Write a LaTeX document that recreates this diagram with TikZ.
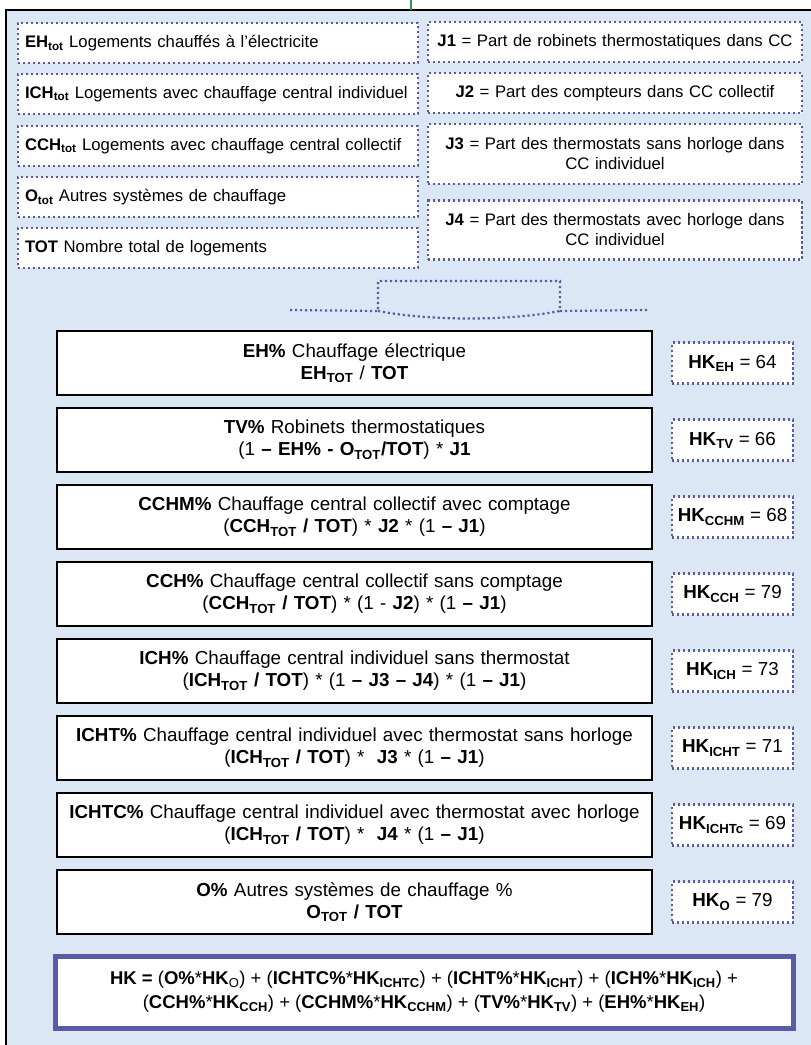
\documentclass[tikz,border=0pt]{standalone}
\usepackage{fontspec}
\setmainfont{Liberation Sans}
\usepackage{xcolor}
\definecolor{hkpanel}{HTML}{DBE7F4}
\definecolor{hkdots}{HTML}{5A5AA6}
\definecolor{hkgreen}{HTML}{1F9A45}
\newcommand{\hksub}[1]{\textbf{HK}\textsubscript{\textbf{#1}}}
\newcommand{\totsub}[1]{\textbf{#1}\textsubscript{\textbf{TOT}}}
\newcommand{\lowtot}[1]{\textbf{#1}\textsubscript{\textbf{tot}}}
\hyphenpenalty=10000
\tikzset{
	infobox/.style={draw=hkdots, fill=white, line width=2.2pt, dash pattern=on 2.2pt off 2.8pt, inner xsep=7pt, inner ysep=0pt, font=\fontsize{16.7}{20}\selectfont},
	varbox/.style={infobox, minimum height=40pt, text width=386pt, align=left},
	partbox/.style={infobox, text width=360pt, align=center},
	calcbox/.style={draw=black, fill=white, line width=1.4pt, minimum height=64pt, text width=593pt, inner xsep=1pt, align=center, font=\fontsize{18.8}{22}\selectfont},
	hkbox/.style={infobox, minimum width=121pt, minimum height=41pt, inner xsep=2pt, font=\fontsize{18.8}{22}\selectfont},
	sumbox/.style={draw=hkdots, fill=white, line width=5pt, minimum width=738pt, minimum height=72pt, align=center, font=\fontsize{18.5}{24}\selectfont}
}

\begin{document}
\begin{tikzpicture}[x=1pt, y=-1pt]
		\useasboundingbox (0,0) rectangle (811,1045);
		\fill[hkpanel] (6,10) rectangle (820,1055);
		\draw[color=black, line width=1.2pt] (6,1055) -- (6,10) -- (820,10);
		\draw[color=hkgreen, line width=2pt] (411,0) -- (411,10);
		% variables
		\node[varbox] (ehtot)  at (218,43)  {\lowtot{EH} Logements chauffés à l'électricite};
		\node[varbox] (ichtot) at (218,94)  {\lowtot{ICH} Logements avec chauffage central individuel};
		\node[varbox] (cchtot) at (218,146) {\lowtot{CCH} Logements avec chauffage central collectif};
		\node[varbox] (otot)   at (218,197) {\lowtot{O} Autres systèmes de chauffage};
		\node[varbox] (tot)    at (218,248) {\textbf{TOT} Nombre total de logements};
		\node[partbox, minimum height=40pt] (j1) at (615,42)  {\textbf{J1} = Part de robinets thermostatiques dans CC};
		\node[partbox, minimum height=40pt] (j2) at (615,93)  {\textbf{J2} = Part des compteurs dans CC collectif};
		\node[partbox, minimum height=60pt] (j3) at (615,154) {\textbf{J3} = Part des thermostats sans horloge dans\\CC individuel};
		\node[partbox, minimum height=59pt] (j4) at (615,230) {\textbf{J4} = Part des thermostats avec horloge dans\\CC individuel};
		% brace
		\coordinate (BL) at (290,310);
		\coordinate (BA) at (378,311);
		\coordinate (BB) at (378,281);
		\coordinate (BC) at (560,281);
		\coordinate (BD) at (560,311);
		\coordinate (BR) at (648,310);
		\draw[color=hkdots, line width=2.2pt, dash pattern=on 2.2pt off 2.8pt] (BL) -- (BA) -- (BB) -- (BC) -- (BD) -- (BR);
		\draw[color=hkdots, line width=2.2pt, dash pattern=on 2.2pt off 2.8pt] (BA) .. controls (430,321) and (508,321) .. (BD);
		% shares
		\node[calcbox] (eh)    at (354.5,363) {\textbf{EH\%} Chauffage électrique\\\totsub{EH} / \textbf{TOT}};
		\node[calcbox] (tv)    at (354.5,440) {\textbf{TV\%} Robinets thermostatiques\\(1 \textbf{– EH\% - O}\textsubscript{\textbf{TOT}}\textbf{/TOT}) * \textbf{J1}};
		\node[calcbox] (cchm)  at (354.5,517) {\textbf{CCHM\%} Chauffage central collectif avec comptage\\(\totsub{CCH}\textbf{ / TOT}) * \textbf{J2} * (1 \textbf{– J1})};
		\node[calcbox] (cch)   at (354.5,594) {\textbf{CCH\%} Chauffage central collectif sans comptage\\(\totsub{CCH}\textbf{ / TOT}) * (1 - \textbf{J2}) * (1 \textbf{– J1})};
		\node[calcbox] (ich)   at (354.5,671) {\textbf{ICH\%} Chauffage central individuel sans thermostat\\(\totsub{ICH}\textbf{ / TOT}) * (1 \textbf{– J3 – J4}) * (1 \textbf{– J1})};
		\node[calcbox] (icht)  at (354.5,748) {\textbf{ICHT\%} Chauffage central individuel avec thermostat sans horloge\\(\totsub{ICH}\textbf{ / TOT}) *~~\textbf{J3} * (1 \textbf{– J1})};
		\node[calcbox] (ichtc) at (354.5,825) {\textbf{ICHTC\%} Chauffage central individuel avec thermostat avec horloge\\(\totsub{ICH}\textbf{ / TOT}) *~~\textbf{J4} * (1 \textbf{– J1})};
		\node[calcbox] (o)     at (354.5,902) {\textbf{O\%} Autres systèmes de chauffage \%\\\totsub{O}\textbf{ / TOT}};
		% factors
		\node[hkbox] (hkeh)    at (732.5,363) {\hksub{EH} = 64};
		\node[hkbox] (hktv)    at (732.5,440) {\hksub{TV} = 66};
		\node[hkbox] (hkcchm)  at (732.5,517) {\hksub{CCHM} = 68};
		\node[hkbox] (hkcch)   at (732.5,594) {\hksub{CCH} = 79};
		\node[hkbox] (hkich)   at (732.5,671) {\hksub{ICH} = 73};
		\node[hkbox] (hkicht)  at (732.5,748) {\hksub{ICHT} = 71};
		\node[hkbox] (hkichtc) at (732.5,825) {\hksub{ICHTc} = 69};
		\node[hkbox] (hko)     at (732.5,902) {\hksub{O} = 79};
		% total
		\node[sumbox] (hk) at (424,992) {\textbf{HK =} (\textbf{O\%}*\textbf{HK}\textsubscript{O}) + (\textbf{ICHTC\%}*\hksub{ICHTC}) + (\textbf{ICHT\%}*\hksub{ICHT}) + (\textbf{ICH\%}*\hksub{ICH}) +\\(\textbf{CCH\%}*\hksub{CCH}) + (\textbf{CCHM\%}*\hksub{CCHM}) + (\textbf{TV\%}*\hksub{TV}) + (\textbf{EH\%}*\hksub{EH})};
	\end{tikzpicture}
\end{document}
